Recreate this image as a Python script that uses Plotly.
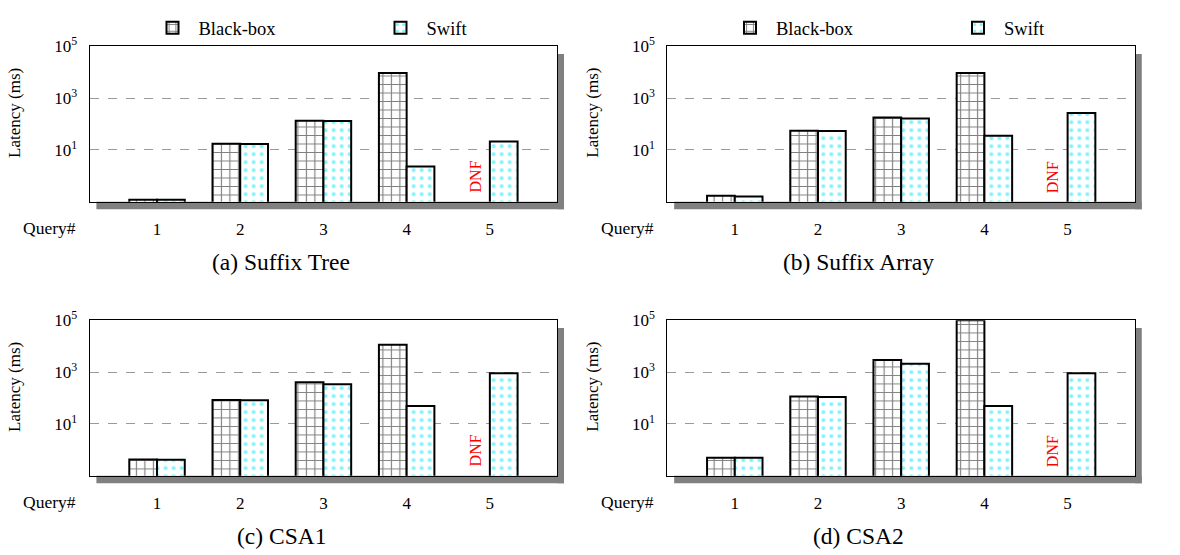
import plotly.graph_objects as go

W, H = 1180, 555

queries = [1, 2, 3, 4, 5]
query_labels = ["1", "2", "3", "4", "5"]

# Latency (ms); None = DNF
bb_suffix_tree = [0.12, 17.5, 135, 9300, None]
sw_suffix_tree = [0.12, 17, 130, 2.3, 21]
bb_suffix_array = [0.17, 55, 180, 9300, None]
sw_suffix_array = [0.16, 54, 165, 35, 265]
bb_csa1 = [0.42, 83, 400, 11400, None]
sw_csa1 = [0.41, 82, 340, 49, 890]
bb_csa2 = [0.5, 114, 2900, 100000, None]
sw_csa2 = [0.5, 110, 2100, 49, 890]

captions = ["(a) Suffix Tree", "(b) Suffix Array", "(c) CSA1", "(d) CSA2"]
series_names = ["Black-box", "Swift"]
ytick_vals = [10, 1000, 100000]
ytick_text = ["10<sup>1</sup>", "10<sup>3</sup>", "10<sup>5</sup>"]

panels = [
    (bb_suffix_tree, sw_suffix_tree),
    (bb_suffix_array, sw_suffix_array),
    (bb_csa1, sw_csa1),
    (bb_csa2, sw_csa2),
]

FONT = "Liberation Serif"

# pixel boxes (left, right, top, bottom)
boxes = [
    (92.7, 576.3, 35, 194),
    (690.2, 1173.8, 35, 194),
    (92.7, 576.3, 315, 474),
    (690.2, 1173.8, 315, 474),
]

def px_x(x):
    return x / W

def px_y(y):
    return 1 - y / H

fig = go.Figure()
shapes = []
annotations = []

def ann(text, x, y, size, color="black", angle=0, xref="paper", yref="paper", xshift=0):
    return dict(text=text, xref=xref, yref=yref, x=x, y=y, xanchor="center",
                yanchor="middle", textangle=angle, showarrow=False, xshift=xshift,
                font=dict(family=FONT, size=size, color=color))

for i, ((bb, sw), (l, r, t, b)) in enumerate(zip(panels, boxes)):
    n = "" if i == 0 else str(i + 1)
    xa, ya = "x" + n, "y" + n
    leg = "legend2" if i == 1 else "legend"
    show = i < 2
    fig.add_trace(go.Bar(
        x=queries, y=bb, name=series_names[0], xaxis=xa, yaxis=ya,
        showlegend=show, legend=leg,
        marker=dict(color="white", line=dict(color="black", width=2),
                    pattern=dict(shape="+", fgcolor="black", bgcolor="white",
                                 size=8.5, solidity=0.25)),
    ))
    fig.add_trace(go.Bar(
        x=queries, y=sw, name=series_names[1], xaxis=xa, yaxis=ya,
        showlegend=show, legend=leg,
        marker=dict(color="white", line=dict(color="black", width=2),
                    pattern=dict(shape=".", fgcolor="#00e5ff", bgcolor="white",
                                 size=8, solidity=0.2)),
    ))
    fig.layout["xaxis" + n] = dict(
        domain=[px_x(l), px_x(r)], anchor=ya, range=[0.19, 5.81],
        tickvals=queries, ticktext=query_labels, showgrid=False, zeroline=False,
        showline=True, mirror=True, linecolor="black", linewidth=1,
        ticks="", ticklabelstandoff=12,
        tickfont=dict(family=FONT, size=17, color="black"),
    )
    fig.layout["yaxis" + n] = dict(
        domain=[px_y(b), px_y(t)], anchor=xa, type="log", range=[-1, 5],
        tickvals=ytick_vals, ticktext=ytick_text,
        showgrid=True, gridcolor="#9a9a9a", griddash="dash", gridwidth=1,
        zeroline=False, showline=True, mirror=True, linecolor="black", linewidth=1,
        ticks="", ticklabelstandoff=8,
        tickfont=dict(family=FONT, size=17, color="black"),
    )
    # shadow
    shapes.append(dict(type="rect", xref="paper", yref="paper", layer="below",
                       x0=px_x(r), x1=px_x(r + 7), y0=px_y(b + 7.7), y1=px_y(t + 8),
                       fillcolor="#808080", line=dict(width=0)))
    shapes.append(dict(type="rect", xref="paper", yref="paper", layer="below",
                       x0=px_x(l + 7), x1=px_x(r + 7), y0=px_y(b + 7.7), y1=px_y(b),
                       fillcolor="#808080", line=dict(width=0)))
    annotations.append(ann("Latency (ms)", px_x(l - 77), px_y(t + 68), 17, angle=-90))
    annotations.append(ann("Query#", px_x(l - 41.7), px_y(b + 26.5), 17.5))
    annotations.append(ann("DNF", 5, -0.04, 16, color="red", angle=-90,
                           xref=xa, yref=ya, xshift=-14.3))
    annotations.append(ann(captions[i], px_x(l + 198), px_y(b + 62), 23.5))

leg_common = dict(orientation="h", xanchor="left", yanchor="middle",
                  font=dict(family=FONT, size=18.5, color="black"),
                  bgcolor="rgba(0,0,0,0)", entrywidth=171, entrywidthmode="pixels",
                  itemwidth=42, traceorder="normal")
fig.update_layout(
    width=W, height=H, margin=dict(l=0, r=0, t=0, b=0),
    paper_bgcolor="white", plot_bgcolor="white",
    barmode="group", bargap=1/3, bargroupgap=0,
    shapes=shapes, annotations=annotations,
    legend=dict(x=px_x(151.5), y=px_y(16.7), **leg_common),
    legend2=dict(x=px_x(151.5 + 597.5), y=px_y(16.7), **leg_common),
    font=dict(family=FONT),
)

fig.write_html("out.html", config={"displayModeBar": False},
               post_script="document.body.style.margin='0';document.body.style.overflow='hidden';")
